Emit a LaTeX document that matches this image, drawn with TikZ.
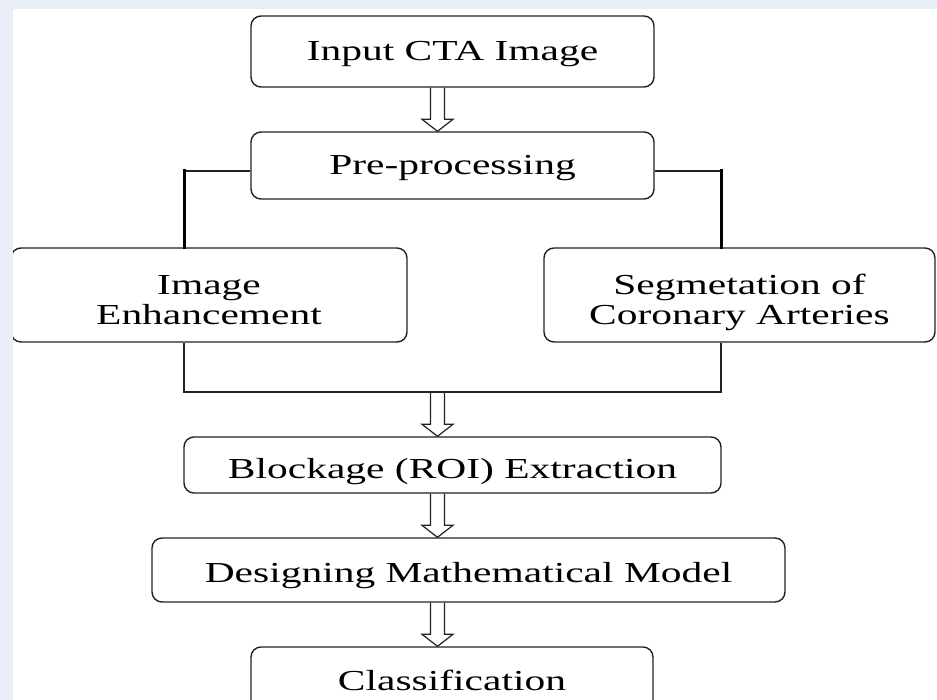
\documentclass[tikz,border=0pt]{standalone}
\usepackage{fontspec}
\setmainfont{Liberation Serif}
\usetikzlibrary{calc}
\definecolor{bgband}{HTML}{E9EDF5}
\definecolor{ink}{HTML}{222222}
% #1 = baseline offset below the box centre, #2 = text
\newcommand\wtext[2]{\raisebox{-#1}[0pt][0pt]{\scalebox{1.43}[1]{#2}}}
\newcommand\wtwo[3]{\raisebox{-#1}[0pt][0pt]{\scalebox{1.43}[1]{%
  \vtop{\baselineskip=30pt\halign{\hfil##\hfil\cr #2\cr #3\cr}}}}}
\tikzset{
  box/.style={draw=ink, line width=1.4pt, rounded corners=10pt, inner sep=0pt,
    font=\fontsize{29}{30}\selectfont, text=black},
  hol/.style={draw=ink, line width=1.2pt, line join=miter},
  thinln/.style={draw=ink, line width=1.5pt},
  thickln/.style={draw=black, line width=3pt, line cap=rect},
  midln/.style={draw=ink, line width=2pt},
}
\newcommand\harrow[2]{%
  \draw[hol] let \p1=(#1 -| ax), \p2=(#2 -| ax) in
    (\x1-7pt,\y1) -- (\x1-7pt,\y2+12pt) -- (\x1-15.5pt,\y2+12pt) -- (\x1,\y2)
    -- (\x1+15.5pt,\y2+12pt) -- (\x1+7pt,\y2+12pt) -- (\x1+7pt,\y1);}
\begin{document}
\begin{tikzpicture}[x=1pt,y=-1pt]
\useasboundingbox (0,0) rectangle (937,700);
\clip (0,0) rectangle (937,700);
\fill[bgband] (0,0) rectangle (937,700);
\fill[white] (13,9) rectangle (937,700);

\coordinate (lx) at (184,0);
\coordinate (rx) at (721,0);
\coordinate (ax) at (437.5,0);
\coordinate (bj) at (0,392);

\node[box, minimum width=403pt, minimum height=71pt] (inp) at (452.5,51.5) {\wtext{9.5pt}{Input CTA Image}};
\node[box, minimum width=403pt, minimum height=67pt] (pre) at (452.5,165.5) {\wtext{9.5pt}{Pre-processing}};
\node[box, minimum width=396pt, minimum height=94pt] (ie) at (209,295) {\wtwo{0pt}{Image}{Enhancement}};
\node[box, minimum width=391pt, minimum height=94pt] (seg) at (739.5,295) {\wtwo{0pt}{Segmetation of}{Coronary Arteries}};
\node[box, minimum width=537pt, minimum height=56pt] (blk) at (452.5,465) {\wtext{13pt}{Blockage (ROI) Extraction}};
\node[box, minimum width=633pt, minimum height=64pt] (des) at (468.5,570) {\wtext{12pt}{Designing Mathematical Model}};
\node[box, minimum width=402pt, minimum height=66pt] (cls) at (452,680) {\wtext{10pt}{Classification}};

% split / join connectors
\draw[thinln] ([yshift=-5.5pt]pre.west) -- ([yshift=-5.5pt]pre.west -| lx);
\draw[thickln] ([yshift=-5.5pt]pre.west -| lx) -- (ie.north -| lx);
\draw[thinln] ([yshift=-5.5pt]pre.east) -- ([yshift=-5.5pt]pre.east -| rx);
\draw[thickln] ([yshift=-5.5pt]pre.east -| rx) -- (seg.north -| rx);
\draw[midln] (ie.south -| lx) -- (bj -| lx) -- (bj -| rx) -- (seg.south -| rx);

% hollow arrows
\harrow{inp.south}{pre.north}
\harrow{bj}{blk.north}
\harrow{blk.south}{des.north}
\harrow{des.south}{cls.north}

\fill[bgband] (0,0) rectangle (13,700);
\fill[bgband] (0,0) rectangle (937,9);
\end{tikzpicture}
\end{document}
